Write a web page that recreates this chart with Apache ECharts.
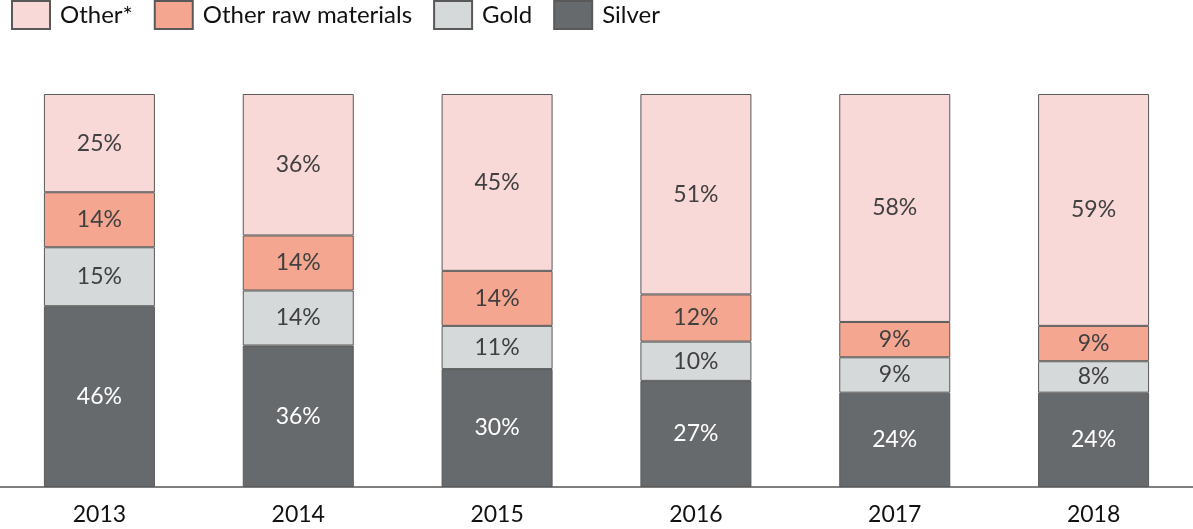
<!DOCTYPE html>
<html>
<head>
<meta charset="utf-8">
<script src="https://cdn.jsdelivr.net/npm/echarts@6/dist/echarts.min.js"></script>
<style>
  html, body { margin: 0; padding: 0; background: #fff; }
  #chart { width: 1193px; height: 529px; }
</style>
</head>
<body>
<div id="chart"></div>
<script>
// Share of each segment per year, in percent
const years = ['2013', '2014', '2015', '2016', '2017', '2018'];
const silver = [46, 36, 30, 27, 24, 24];
const gold = [15, 14, 11, 10, 9, 8];
const otherRaw = [14, 14, 14, 12, 9, 9];
const other = [25, 36, 45, 51, 58, 59];

const FONT = 'Lato, "Open Sans", sans-serif';

function layer(name, data, color, labelColor) {
  return {
    name: name,
    type: 'bar',
    stack: 'total',
    data: data,
    barWidth: 111,
    itemStyle: { color: color, borderColor: '#595959', borderWidth: 1 },
    label: {
      show: true,
      position: 'inside',
      formatter: '{c}%',
      color: labelColor,
      fontFamily: FONT,
      fontSize: 23
    },
    emphasis: { disabled: true }
  };
}

const chart = echarts.init(document.getElementById('chart'), null, { renderer: 'canvas' });
chart.setOption({
  animation: false,
  legend: {
    left: 11,
    top: 0,
    padding: 0,
    itemWidth: 38,
    itemHeight: 28,
    itemGap: 21,
    icon: 'rect',
    textStyle: { fontFamily: FONT, fontSize: 24, color: '#111', padding: [2, 0, 0, 5] },
    data: ['Other*', 'Other raw materials', 'Gold', 'Silver']
  },
  grid: { left: 0, right: 0, top: 94, bottom: 42, containLabel: false },
  xAxis: {
    type: 'category',
    data: years,
    axisLine: { lineStyle: { color: '#7f7f7f', width: 2 } },
    axisTick: { show: false },
    axisLabel: { fontFamily: FONT, fontSize: 23, color: '#111', margin: 16 }
  },
  yAxis: {
    type: 'value',
    min: 0,
    max: 100,
    show: false
  },
  series: [
    layer('Silver', silver, '#676a6d', '#ffffff'),
    layer('Gold', gold, '#d5d9d9', '#404040'),
    layer('Other raw materials', otherRaw, '#f5a691', '#404040'),
    layer('Other*', other, '#f8d9d8', '#404040')
  ]
});
</script>
</body>
</html>
